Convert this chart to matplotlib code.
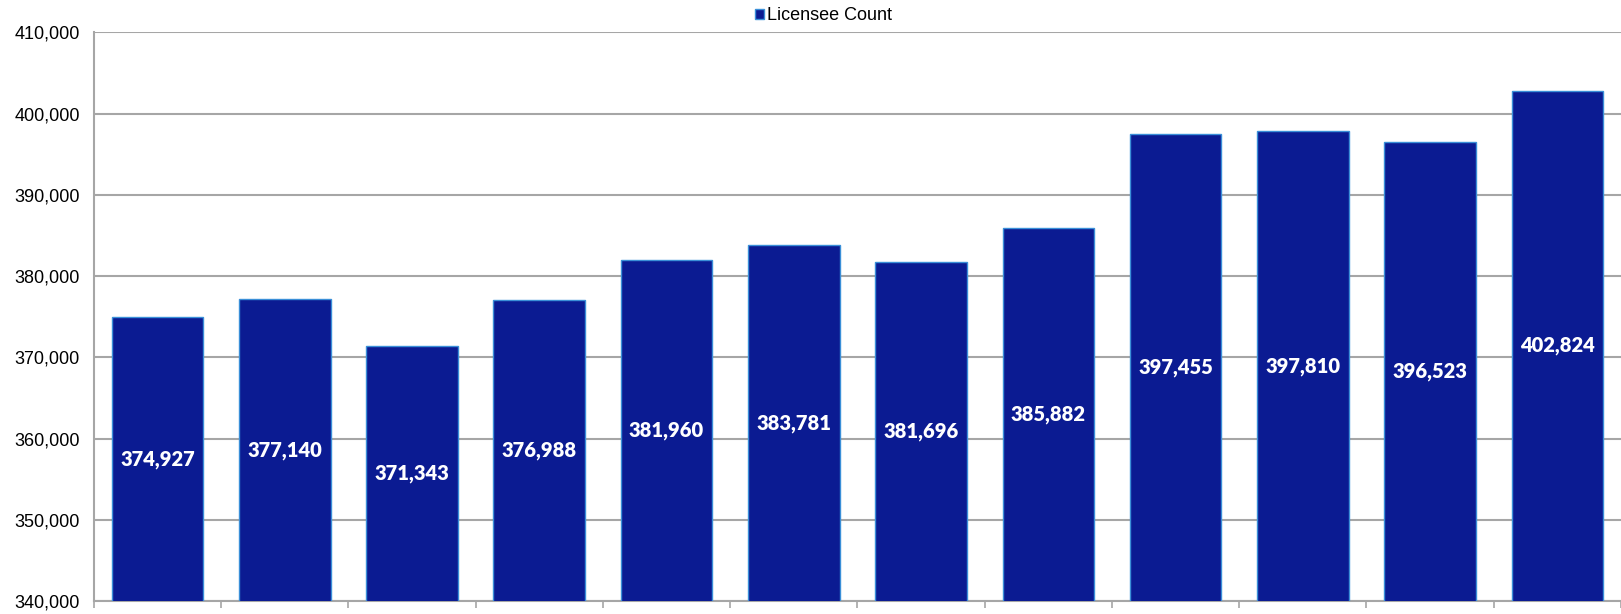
import matplotlib.pyplot as plt
from matplotlib.ticker import FuncFormatter, MultipleLocator
from matplotlib.patches import Patch

# Licensee counts, one bar per period (no category labels shown)
periods = list(range(12))
counts = [374927, 377140, 371343, 376988, 381960, 383781,
          381696, 385882, 397455, 397810, 396523, 402824]

bar_color = '#0B1B92'
edge_color = '#3A8FD8'
grid_color = '#A6A6A6'

fig = plt.figure(figsize=(16.21, 6.14), dpi=100)
ax = fig.add_axes([0.0579, 0.0212, 0.9421, 0.9262])

bars = ax.bar(periods, counts, width=0.72, color=bar_color,
              edgecolor=edge_color, linewidth=1.0, zorder=3)

ax.set_ylim(340000, 410000)
ax.set_xlim(-0.5, 11.5)
ax.yaxis.set_major_locator(MultipleLocator(10000))
ax.yaxis.set_major_formatter(FuncFormatter(lambda v, p: f"{int(v):,}"))
ax.grid(axis='y', color=grid_color, linewidth=1.5, zorder=0)

# category boundary ticks on the x axis, no labels
ax.set_xticks([i - 0.5 for i in range(13)])
ax.set_xticklabels([])
ax.tick_params(axis='x', length=5, width=1.2, color=grid_color, direction='out')
ax.tick_params(axis='y', length=0, labelsize=13, pad=10)
for lab in ax.get_yticklabels():
    lab.set_family('Liberation Sans')

for side in ['top', 'right']:
    ax.spines[side].set_visible(False)
for side in ['left', 'bottom']:
    ax.spines[side].set_color(grid_color)
    ax.spines[side].set_linewidth(1.5)

# value labels in the vertical middle of each bar
for x, v in zip(periods, counts):
    ax.text(x, (340000 + v) / 2, f"{v:,}", ha='center', va='center',
            color='white', fontsize=14.5, fontweight='heavy', family='Lato',
            zorder=4)

handle = Patch(facecolor=bar_color, edgecolor=edge_color, label='Licensee Count')
fig.legend(handles=[handle], loc='center', bbox_to_anchor=(0.508, 0.974),
           frameon=False, handlelength=0.5, handleheight=0.5,
           handletextpad=0.15, prop={'family': 'Liberation Sans', 'size': 13})

fig.savefig('out.png', dpi=100)
